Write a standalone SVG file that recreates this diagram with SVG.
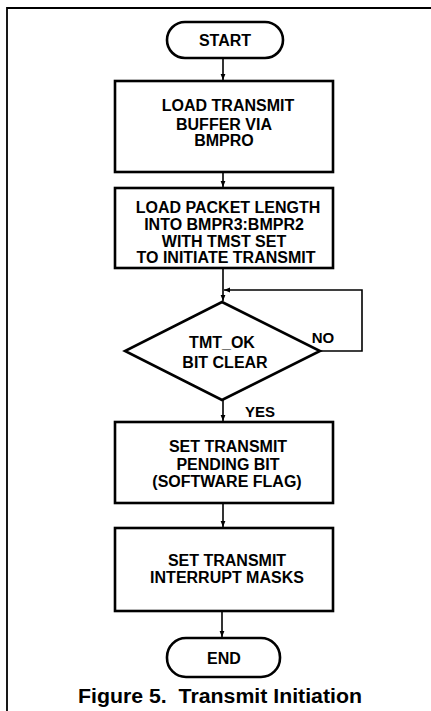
<svg xmlns="http://www.w3.org/2000/svg" width="431" height="711" viewBox="0 0 431 711">
<style>
.shape{fill:#fff;stroke:#000;stroke-width:2.6}
.t{font-family:"Liberation Sans",Arial,sans-serif;font-weight:bold;font-size:16px;text-anchor:middle;fill:#000}
.c{fill:none;stroke:#000;stroke-width:1.6}
</style>
<defs>
<marker id="ah" viewBox="0 0 10 10" refX="10" refY="5" markerWidth="6" markerHeight="6" orient="auto" markerUnits="userSpaceOnUse">
<path d="M0,1 L10,5 L0,9 Z" fill="#000"/>
</marker>
</defs>
<rect width="431" height="711" fill="#fff"/>
<path d="M7,711 V8 H431" fill="none" stroke="#000" stroke-width="1.8"/>
<g id="connectors">
<line class="c" x1="223" y1="58" x2="223" y2="80" marker-end="url(#ah)"/>
<line class="c" x1="223" y1="172" x2="223" y2="187" marker-end="url(#ah)"/>
<line class="c" x1="223" y1="268" x2="223" y2="301" marker-end="url(#ah)"/>
<path class="c" d="M320,351 H362 V290 H224" marker-end="url(#ah)"/>
<line class="c" x1="223" y1="400" x2="223" y2="421" marker-end="url(#ah)"/>
<line class="c" x1="223" y1="503" x2="223" y2="527" marker-end="url(#ah)"/>
<line class="c" x1="222" y1="611" x2="222" y2="637" marker-end="url(#ah)"/>
<text class="t" x="323" y="343" style="font-size:15px">NO</text>
<text class="t" x="260" y="417" style="font-size:15px">YES</text>
</g>
<g id="start">
<rect class="shape" x="167" y="22" width="116" height="36" rx="18"/>
<text class="t" x="225" y="46">START</text>
</g>
<g id="load-buffer">
<rect class="shape" x="115" y="81" width="218" height="91"/>
<text class="t" x="228" y="111">LOAD TRANSMIT</text>
<text class="t" x="224" y="130">BUFFER VIA</text>
<text class="t" x="224" y="146">BMPRO</text>
</g>
<g id="load-length">
<rect class="shape" x="115" y="188" width="218" height="80"/>
<text class="t" x="228" y="213">LOAD PACKET LENGTH</text>
<text class="t" x="224" y="230">INTO BMPR3:BMPR2</text>
<text class="t" x="224" y="247">WITH TMST SET</text>
<text class="t" x="226" y="263">TO INITIATE TRANSMIT</text>
</g>
<g id="decision">
<polygon class="shape" points="222,302 320,351 222,400 125,351"/>
<text class="t" x="222" y="348">TMT_OK</text>
<text class="t" x="225" y="368">BIT CLEAR</text>
</g>
<g id="set-pending">
<rect class="shape" x="115" y="422" width="218" height="81"/>
<text class="t" x="228" y="452">SET TRANSMIT</text>
<text class="t" x="228" y="470">PENDING BIT</text>
<text class="t" x="227" y="487">(SOFTWARE FLAG)</text>
</g>
<g id="set-masks">
<rect class="shape" x="115" y="528" width="218" height="83"/>
<text class="t" x="227" y="566">SET TRANSMIT</text>
<text class="t" x="227" y="583">INTERRUPT MASKS</text>
</g>
<g id="end">
<rect class="shape" x="167" y="638" width="113" height="39" rx="19"/>
<text class="t" x="224" y="664">END</text>
</g>
<text class="t" x="220" y="703" style="font-size:20px" textLength="284" lengthAdjust="spacingAndGlyphs">Figure 5.&#160; Transmit Initiation</text>
</svg>
